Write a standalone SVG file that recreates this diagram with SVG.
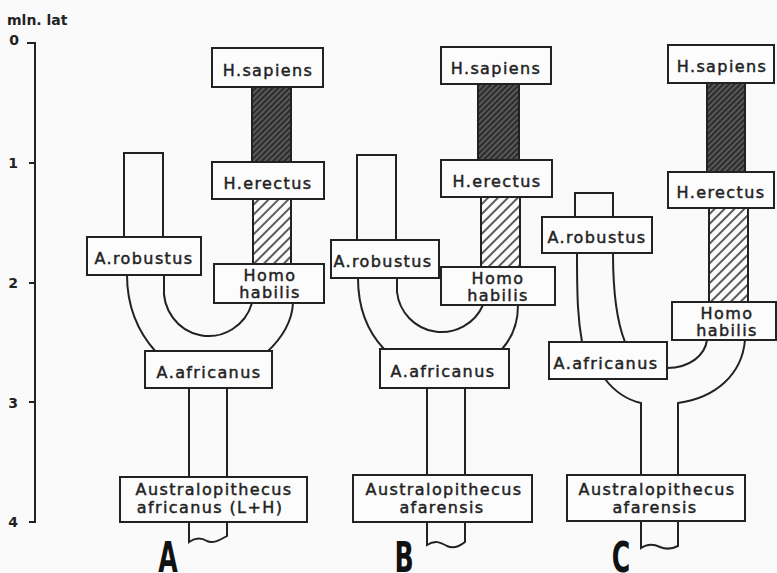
<svg xmlns="http://www.w3.org/2000/svg" width="777" height="573" viewBox="0 0 777 573">
<defs>
<style>
.box{fill:#fcfcfc;stroke:#222;stroke-width:2}
.ln{fill:none;stroke:#222;stroke-width:2}
.t{font-family:"DejaVu Sans","Liberation Sans",sans-serif;font-size:16px;fill:#222;stroke:#222;stroke-width:0.45;text-anchor:middle;letter-spacing:1.4px}
.ax{font-family:"DejaVu Sans","Liberation Sans",sans-serif;font-weight:bold;font-size:14px;fill:#222}
.big{font-family:"DejaVu Sans","Liberation Sans",sans-serif;font-weight:bold;font-size:42px;fill:#111;text-anchor:middle}
.dark{fill:url(#hDark);stroke:#222;stroke-width:2}
.light{fill:url(#hLight);stroke:#222;stroke-width:2}
</style>
<pattern id="hDark" width="4" height="4" patternUnits="userSpaceOnUse" patternTransform="rotate(45)">
<rect width="4" height="4" fill="#2c2c2c"/>
<line x1="1" y1="0" x2="1" y2="4" stroke="#9a9a9a" stroke-width="0.8"/>
</pattern>
<pattern id="hLight" width="7" height="7" patternUnits="userSpaceOnUse" patternTransform="rotate(45)">
<rect width="7" height="7" fill="#fcfcfc"/>
<line x1="2" y1="0" x2="2" y2="7" stroke="#333" stroke-width="1.6"/>
</pattern>
</defs>
<rect width="777" height="573" fill="#fafafa"/>

<g id="axis">
<text class="ax" x="7" y="25">mln. lat</text>
<path class="ln" d="M27,43 H35 V522 H29 M29,163 H35 M29,283 H35 M29,402 H35"/>
<text class="ax" x="14" y="45" text-anchor="middle">0</text>
<text class="ax" x="13" y="168" text-anchor="middle">1</text>
<text class="ax" x="13" y="288" text-anchor="middle">2</text>
<text class="ax" x="13" y="408" text-anchor="middle">3</text>
<text class="ax" x="13" y="527" text-anchor="middle">4</text>
</g>

<g id="connectors">
<!-- Panel A -->
<rect class="dark" x="252" y="87" width="39" height="75"/>
<rect class="light" x="253" y="199" width="38" height="65"/>
<path class="ln" d="M124,237 V153 H163 V237"/>
<path class="ln" d="M127,275 C127,308 138,332 156,352"/>
<path class="ln" d="M293,303 C292,322 282,338 267,352"/>
<path class="ln" d="M164,275 V286 A45,46 0 0 0 252,303"/>
<path class="ln" d="M189,388 V477 M227,388 V477"/>
<path class="ln" d="M189,522 V542 C196,537 202,538 207,541 C213,544 220,540 227,536 V522"/>
<!-- Panel B -->
<rect class="dark" x="478" y="84" width="41" height="76"/>
<rect class="light" x="481" y="197" width="39" height="70"/>
<path class="ln" d="M357,240 V155 H396 V240"/>
<path class="ln" d="M358,278 C358,310 368,332 384,349"/>
<path class="ln" d="M518,305 C518,322 512,338 502,349"/>
<path class="ln" d="M397,278 V292 A45,45 0 0 0 483,305"/>
<path class="ln" d="M427,388 V475 M465,388 V475"/>
<path class="ln" d="M427,522 V545 C435,540 440,542 447,546 C453,549 460,546 465,542 V522"/>
<!-- Panel C -->
<rect class="dark" x="707" y="83" width="38" height="89"/>
<rect class="light" x="709" y="208" width="39" height="94"/>
<path class="ln" d="M575,217 V193 H613 V217"/>
<path class="ln" d="M577,253 C577,300 578,320 582,342"/>
<path class="ln" d="M613,253 C613,295 617,322 625,342"/>
<path class="ln" d="M667,368 C690,368 705,355 707,340"/>
<path class="ln" d="M605,379 C615,392 628,400 641,403 V475"/>
<path class="ln" d="M745,340 C742,375 715,398 678,403 V475"/>
<path class="ln" d="M641,521 V548 C648,543 654,544 660,547 C667,550 672,549 678,546 V521"/>
</g>

<g id="A-sapiens"><rect class="box" x="212" y="48" width="111" height="39"/><text class="t" x="268" y="75.5">H.sapiens</text></g>
<g id="A-erectus"><rect class="box" x="212" y="162" width="112" height="37"/><text class="t" x="268" y="188.5">H.erectus</text></g>
<g id="A-habilis"><rect class="box" x="214" y="264" width="110" height="39"/><text class="t" x="270" y="281">Homo</text><text class="t" x="270" y="298">habilis</text></g>
<g id="A-robustus"><rect class="box" x="87" y="237" width="114" height="38"/><text class="t" x="144" y="264">A.robustus</text></g>
<g id="A-africanus"><rect class="box" x="145" y="351" width="127" height="37"/><text class="t" x="209" y="377.5">A.africanus</text></g>
<g id="A-australopithecus"><rect class="box" x="120" y="477" width="187" height="45"/><text class="t" x="214" y="495">Australopithecus</text><text class="t" x="210" y="513">africanus (L+H)</text></g>
<g id="A-label"><text class="big" transform="translate(168,572) scale(0.6,1)">A</text></g>

<g id="B-sapiens"><rect class="box" x="441" y="47" width="110" height="37"/><text class="t" x="496" y="73.5">H.sapiens</text></g>
<g id="B-erectus"><rect class="box" x="441" y="160" width="111" height="37"/><text class="t" x="497" y="186.5">H.erectus</text></g>
<g id="B-habilis"><rect class="box" x="441" y="267" width="114" height="38"/><text class="t" x="498" y="284">Homo</text><text class="t" x="498" y="301">habilis</text></g>
<g id="B-robustus"><rect class="box" x="331" y="240" width="108" height="38"/><text class="t" x="383" y="267">A.robustus</text></g>
<g id="B-africanus"><rect class="box" x="380" y="349" width="129" height="39"/><text class="t" x="443" y="376.5">A.africanus</text></g>
<g id="B-australopithecus"><rect class="box" x="353" y="475" width="179" height="47"/><text class="t" x="444" y="495">Australopithecus</text><text class="t" x="442" y="513">afarensis</text></g>
<g id="B-label"><text class="big" transform="translate(404,572) scale(0.6,1)">B</text></g>

<g id="C-sapiens"><rect class="box" x="668" y="45" width="106" height="38"/><text class="t" x="722" y="72">H.sapiens</text></g>
<g id="C-erectus"><rect class="box" x="668" y="172" width="106" height="36"/><text class="t" x="721" y="198">H.erectus</text></g>
<g id="C-habilis"><rect class="box" x="672" y="302" width="104" height="38"/><text class="t" x="727" y="319">Homo</text><text class="t" x="727" y="336">habilis</text></g>
<g id="C-robustus"><rect class="box" x="542" y="217" width="110" height="36"/><text class="t" x="597" y="243">A.robustus</text></g>
<g id="C-africanus"><rect class="box" x="549" y="342" width="118" height="37"/><text class="t" x="606" y="369">A.africanus</text></g>
<g id="C-australopithecus"><rect class="box" x="567" y="475" width="178" height="46"/><text class="t" x="657" y="495">Australopithecus</text><text class="t" x="655" y="513">afarensis</text></g>
<g id="C-label"><text class="big" transform="translate(621,572) scale(0.6,1)">C</text></g>
</svg>
